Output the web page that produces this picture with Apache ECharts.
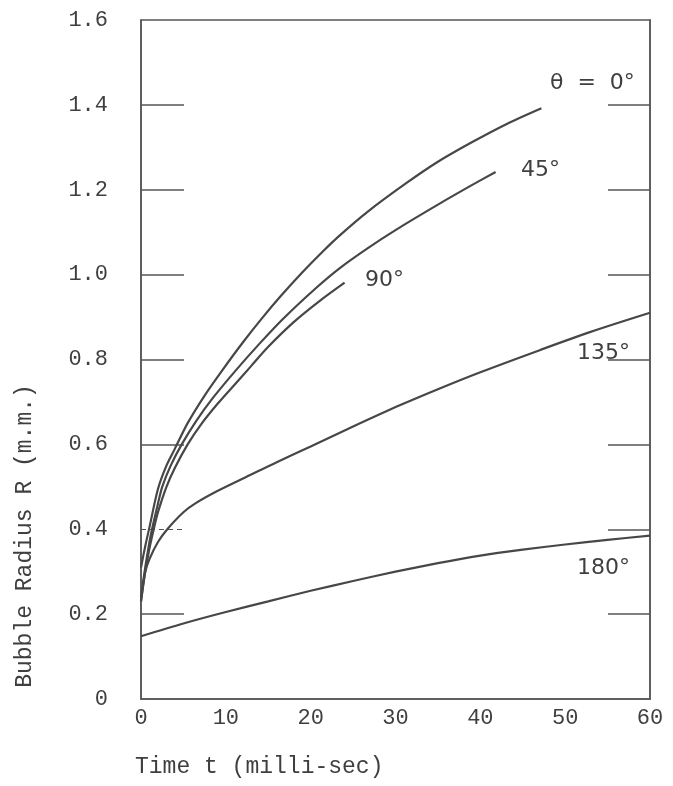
<!DOCTYPE html>
<html>
<head>
<meta charset="utf-8">
<title>Bubble Radius vs Time</title>
<script src="https://cdn.jsdelivr.net/npm/echarts@6/dist/echarts.min.js"></script>
<style>
  html, body { margin: 0; padding: 0; background: #fff; }
  #bubble_chart { width: 673px; height: 786px; }
</style>
</head>
<body>
<div id="bubble_chart"></div>
<script>
// 读图得到的数据 (t: milli-sec, R: m.m.)
const t0 = [0, 0.5, 1, 2, 3, 4, 5.5, 7.5, 9.6, 12, 14.3, 16.5, 19, 21.4, 23.4, 26.7, 31.3, 35, 39.1, 43, 47.2];
const r0 = [0.31, 0.36, 0.405, 0.495, 0.55, 0.59, 0.65, 0.715, 0.775, 0.84, 0.898, 0.95, 1.005, 1.054, 1.092, 1.148, 1.216, 1.266, 1.313, 1.354, 1.392];

const t45 = [0, 0.5, 1, 1.3, 2, 2.5, 3.5, 4.8, 6.5, 8.5, 11.2, 14, 16.7, 20.6, 23.4, 26.7, 30, 35, 39.1, 41.8];
const r45 = [0.24, 0.31, 0.37, 0.40, 0.46, 0.50, 0.55, 0.60, 0.655, 0.71, 0.775, 0.838, 0.895, 0.968, 1.015, 1.062, 1.105, 1.165, 1.212, 1.242];

const t90 = [0, 0.5, 1, 1.5, 2, 3, 4, 5.5, 7, 9, 11, 13, 15, 18, 21, 24];
const r90 = [0.23, 0.30, 0.355, 0.40, 0.44, 0.50, 0.545, 0.60, 0.645, 0.695, 0.74, 0.785, 0.83, 0.888, 0.937, 0.981];

const t135 = [0, 0.5, 1, 2, 3.1, 5, 6.5, 9, 12.8, 16, 20, 25, 30.5, 35, 40, 47, 53, 60];
const r135 = [0.23, 0.30, 0.33, 0.37, 0.40, 0.44, 0.462, 0.49, 0.527, 0.558, 0.595, 0.642, 0.692, 0.73, 0.77, 0.822, 0.865, 0.91];

const t180 = [0, 5, 10, 15, 20, 25, 30, 35, 40, 45, 50, 55, 60];
const r180 = [0.148, 0.178, 0.205, 0.23, 0.255, 0.278, 0.30, 0.32, 0.338, 0.352, 0.364, 0.375, 0.385];

const curveNames = ['θ = 0°', '45°', '90°', '135°', '180°'];
const yTicks = [0.2, 0.6, 0.8, 1.0, 1.2, 1.4];
const yDashTick = [0.4];

const ink = '#474747';
const textInk = '#3f3f3f';
const mono = '"Liberation Mono", "DejaVu Sans Mono", monospace';

function pairs(ts, rs) {
    return ts.map(function (t, i) { return [t, rs[i]]; });
}

function curve(name, ts, rs) {
    return {
        name: name,
        type: 'line',
        data: pairs(ts, rs),
        showSymbol: false,
        symbol: 'none',
        smooth: 0.3,
        silent: true,
        lineStyle: { color: ink, width: 2.2 }
    };
}

const myChart = echarts.init(document.getElementById('bubble_chart'));

const option = {
    backgroundColor: '#fff',
    animation: false,
    grid: {
        left: 141,
        right: 23,
        top: 20,
        bottom: 87,
        show: true,
        borderColor: '#555',
        borderWidth: 1.5
    },
    xAxis: {
        type: 'value',
        min: 0,
        max: 60,
        interval: 10,
        axisLine: { show: true, lineStyle: { color: '#555', width: 1.5 } },
        axisTick: { show: false },
        splitLine: { show: false },
        axisLabel: {
            color: textInk,
            fontFamily: mono,
            fontSize: 22,
            margin: 8
        }
    },
    yAxis: [
        {
            type: 'value',
            position: 'left',
            min: 0,
            max: 1.6,
            interval: 0.2,
            axisLine: { show: true, lineStyle: { color: '#555', width: 1.5 } },
            axisTick: {
                show: true,
                inside: true,
                length: 43,
                customValues: yTicks,
                lineStyle: { color: '#555', width: 1.5 }
            },
            splitLine: { show: false },
            axisLabel: {
                color: textInk,
                fontFamily: mono,
                fontSize: 22,
                margin: 33,
                padding: [0, 0, 7, 0],
                formatter: function (v) { return v === 0 ? '0' : v.toFixed(1); }
            }
        },
        {
            // 0.4 处的虚线刻度
            type: 'value',
            position: 'left',
            min: 0,
            max: 1.6,
            interval: 0.2,
            axisLine: { show: false },
            axisTick: {
                show: true,
                inside: true,
                length: 43,
                customValues: yDashTick,
                lineStyle: { color: '#555', width: 1.2, type: [5, 4] }
            },
            axisLabel: { show: false },
            splitLine: { show: false }
        },
        {
            type: 'value',
            position: 'right',
            min: 0,
            max: 1.6,
            interval: 0.2,
            axisLine: { show: true, lineStyle: { color: '#555', width: 1.5 } },
            axisTick: {
                show: true,
                inside: true,
                length: 42,
                customValues: yTicks.concat(yDashTick),
                lineStyle: { color: '#555', width: 1.5 }
            },
            axisLabel: { show: false },
            splitLine: { show: false }
        }
    ],
    graphic: [
        {
            type: 'text',
            left: 135,
            top: 755,
            style: { text: 'Time t (milli-sec)', font: '23px ' + mono, fill: textInk }
        },
        {
            type: 'text',
            x: 25,
            y: 536,
            rotation: Math.PI / 2,
            style: {
                text: 'Bubble Radius R (m.m.)',
                font: '23px ' + mono,
                fill: textInk,
                textAlign: 'center',
                textVerticalAlign: 'middle'
            }
        },
        { type: 'text', left: 550, top: 72, style: { text: 'θ  =  0°', font: '22px "DejaVu Sans"', fill: textInk } },
        { type: 'text', left: 521, top: 159, style: { text: '45°', font: '22px "DejaVu Sans"', fill: textInk } },
        { type: 'text', left: 365, top: 269, style: { text: '90°', font: '22px "DejaVu Sans"', fill: textInk } },
        { type: 'text', left: 577, top: 342, style: { text: '135°', font: '22px "DejaVu Sans"', fill: textInk } },
        { type: 'text', left: 577, top: 557, style: { text: '180°', font: '22px "DejaVu Sans"', fill: textInk } }
    ],
    series: [
        curve(curveNames[0], t0, r0),
        curve(curveNames[1], t45, r45),
        curve(curveNames[2], t90, r90),
        curve(curveNames[3], t135, r135),
        curve(curveNames[4], t180, r180)
    ]
};

// 使用刚指定的配置项和数据显示图表。
myChart.setOption(option);
</script>
</body>
</html>
